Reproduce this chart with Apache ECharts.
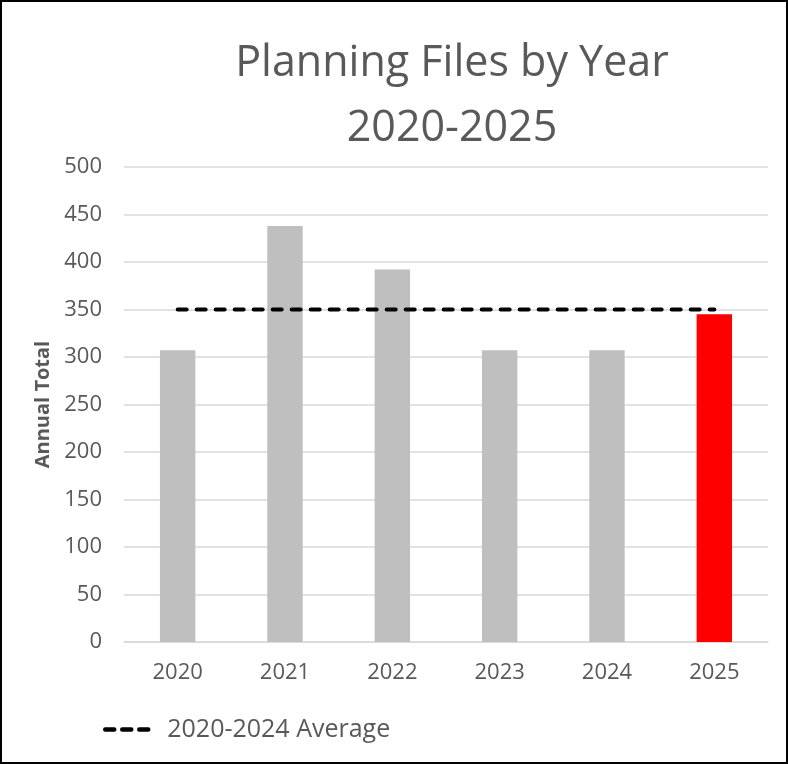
<!DOCTYPE html>
<html>
<head>
<meta charset="utf-8">
<script src="https://cdn.jsdelivr.net/npm/echarts@6/dist/echarts.min.js"></script>
<style>
  html, body { margin: 0; padding: 0; background: #fff; }
  #chart { width: 788px; height: 764px; box-sizing: border-box; border: 2px solid #000; }
</style>
</head>
<body>
<div id="chart"></div>
<script>
const years = ['2020', '2021', '2022', '2023', '2024', '2025']
const totals = [307, 438, 392, 307, 307, 345]
const average = [350, 350, 350, 350, 350, 350]
const yTicks = { min: 0, max: 500, interval: 50 }

const textColor = '#595959'
const font = '"Open Sans", "Liberation Sans", sans-serif'

const chart = echarts.init(document.getElementById('chart'))
chart.setOption({
  animation: false,
  textStyle: { fontFamily: font },
  graphic: [
    {
      type: 'text', x: 450, y: 62,
      style: { text: 'Planning Files by Year', fill: textColor, font: '43px ' + font, textAlign: 'center', textVerticalAlign: 'middle' }
    },
    {
      type: 'text', x: 450, y: 127,
      style: { text: '2020-2025', fill: textColor, font: '43px ' + font, textAlign: 'center', textVerticalAlign: 'middle' }
    }
  ],
  legend: {
    left: 101,
    top: 715,
    padding: 0,
    itemWidth: 50,
    itemHeight: 10,
    itemStyle: { opacity: 0 },
    lineStyle: { color: '#000', width: 4.5, type: [9, 8], cap: 'round' },
    textStyle: { color: textColor, fontSize: 25, fontFamily: font, padding: [0, 0, 0, 7] },
    data: ['2020-2024 Average']
  },
  grid: { left: 122, right: 18, top: 165, bottom: 120 },
  xAxis: {
    type: 'category',
    data: years,
    axisLine: { lineStyle: { color: '#D9D9D9', width: 1.5 } },
    axisTick: { show: false },
    axisLabel: { color: textColor, fontSize: 22, margin: 20 }
  },
  yAxis: {
    type: 'value',
    min: yTicks.min,
    max: yTicks.max,
    interval: yTicks.interval,
    name: 'Annual Total',
    nameLocation: 'middle',
    nameGap: 70,
    nameTextStyle: { color: textColor, fontSize: 20, fontWeight: 'bold' },
    axisLine: { show: false },
    axisTick: { show: false },
    axisLabel: { color: textColor, fontSize: 22, margin: 22 },
    splitLine: { lineStyle: { color: '#D9D9D9', width: 1.5 } }
  },
  series: [
    {
      name: 'Annual Total',
      type: 'bar',
      barWidth: '33%',
      data: totals.map((v, i) => ({
        value: v,
        itemStyle: { color: i === totals.length - 1 ? '#FF0000' : '#BFBFBF' }
      }))
    },
    {
      name: '2020-2024 Average',
      type: 'line',
      symbol: 'none',
      data: average,
      z: 5,
      lineStyle: { color: '#000', width: 4, type: [9, 10], cap: 'round' },
      itemStyle: { color: '#000' }
    }
  ]
})
</script>
</body>
</html>
